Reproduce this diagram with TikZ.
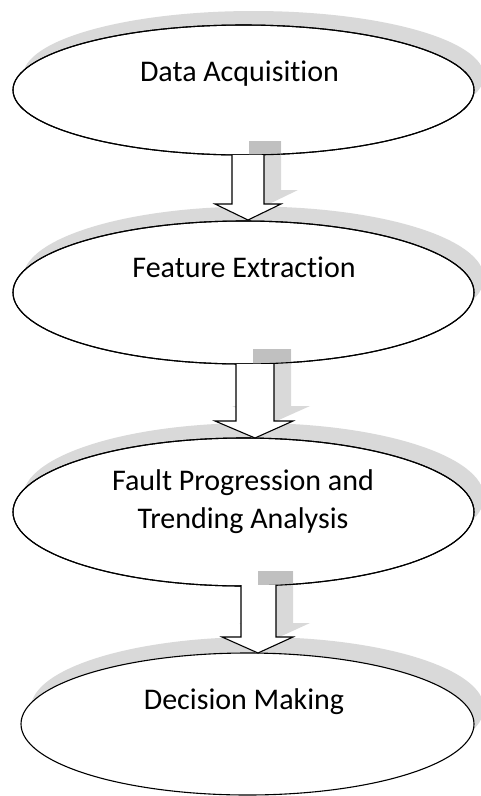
\documentclass[tikz,border=0pt]{standalone}
\usepackage{fontspec}
\setmainfont{Carlito}[Ligatures=NoCommon]
\usetikzlibrary{shapes.geometric}
\definecolor{shadelight}{RGB}{217,217,217}
\definecolor{shadedark}{RGB}{192,192,192}
\begin{document}
\begin{tikzpicture}[x=1pt,y=-1pt,
  bubble/.style={ellipse, draw=black, line width=1.1pt, fill=white, inner sep=0pt},
  bubbleshade/.style={ellipse, fill=shadelight, inner sep=0pt},
  txt/.style={font=\fontsize{30}{38}\selectfont, anchor=base, inner sep=0pt, align=center},
  blockarrow/.style={draw=black, line width=1.1pt, fill=white, line join=miter},
  arrowshade/.style={fill=shadelight}]
\useasboundingbox (0,0) rectangle (481,796);
\fill[white] (0,0) rectangle (481,796);
% ellipse shadows
\node[bubbleshade, minimum width=461pt, minimum height=130pt] (s1) at (253.5,76) {};
\node[bubbleshade, minimum width=461pt, minimum height=143pt] (s2) at (253.5,278) {};
\node[bubbleshade, minimum width=461pt, minimum height=148pt] (s3) at (253.5,497) {};
\node[bubbleshade, minimum width=453pt, minimum height=142pt] (s4) at (257.5,708) {};
% ellipses
\node[bubble, minimum width=461pt, minimum height=130pt] (e1) at (243.5,90) {};
\node[bubble, minimum width=461pt, minimum height=143pt] (e2) at (243.5,292.5) {};
\node[bubble, minimum width=461pt, minimum height=148pt] (e3) at (243.5,512) {};
\node[bubble, minimum width=453pt, minimum height=142pt] (e4) at (247.5,724) {};
% arrow shadows
\fill[arrowshade] (249,141) -- (249,190) -- (232,190) -- (265,206) -- (298,190) -- (281,190) -- (281,141) -- cycle;
\fill[arrowshade] (253,349) -- (253,406) -- (232,406) -- (272,423) -- (310,406) -- (291,406) -- (291,349) -- cycle;
\fill[arrowshade] (258,571) -- (258,623) -- (239,623) -- (275,639) -- (310,623) -- (293,623) -- (293,571) -- cycle;
\begin{scope}
  \clip (243.5,90) ellipse [x radius=230.5pt, y radius=65pt];
  \fill[shadedark] (249,141) rectangle (281,160);
\end{scope}
\begin{scope}
  \clip (243.5,292.5) ellipse [x radius=230.5pt, y radius=71.5pt];
  \fill[shadedark] (253,349) rectangle (291,370);
\end{scope}
\begin{scope}
  \clip (243.5,512) ellipse [x radius=230.5pt, y radius=74pt];
  \fill[shadedark] (258,571) rectangle (293,590);
\end{scope}
\draw[line width=1.1pt] (243.5,90) ellipse [x radius=230.5pt, y radius=65pt];
\draw[line width=1.1pt] (243.5,292.5) ellipse [x radius=230.5pt, y radius=71.5pt];
\draw[line width=1.1pt] (243.5,512) ellipse [x radius=230.5pt, y radius=74pt];
% block arrows
\draw[blockarrow] (232,155) -- (232,204) -- (215,204) -- (248,220) -- (281,204) -- (264,204) -- (264,155);
\draw[blockarrow] (236,364) -- (236,421) -- (215,421) -- (255,438) -- (293,421) -- (274,421) -- (274,364);
\draw[blockarrow] (241,585) -- (241,637) -- (222,637) -- (258,653) -- (293,637) -- (276,637) -- (276,585);
% labels
\node[txt] (t1) at (239.5,81) {Data Acquisition};
\node[txt] (t2) at (244,277) {Feature Extraction};
\begin{scope}
  \clip (0,445) rectangle (481,533);
  \node[txt] (t3) at (243,528) {Fault Progression and\\Trending Analysis};
\end{scope}
\node[txt] (t4) at (244,709) {Decision Making};
\end{tikzpicture}
\end{document}
